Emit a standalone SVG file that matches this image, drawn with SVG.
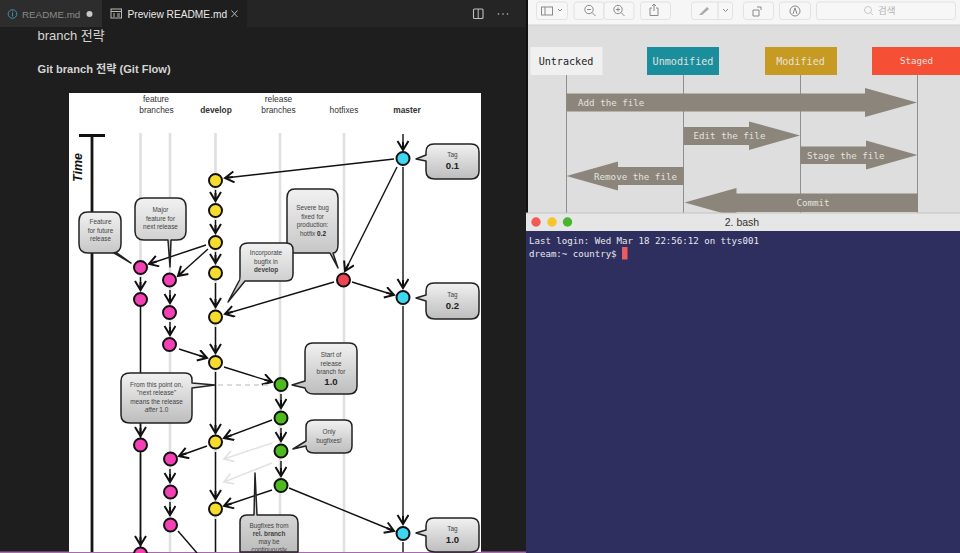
<svg xmlns="http://www.w3.org/2000/svg" width="960" height="553" viewBox="0 0 960 553">
<style>
text{font-family:"Liberation Sans","Noto Sans CJK KR",sans-serif}
.b{font-size:6.4px;fill:#444;text-anchor:middle}
.h{font-size:8.4px;fill:#333;text-anchor:middle}
.tag{font-size:9.6px;font-weight:700;fill:#222;text-anchor:middle}
.bub{fill:url(#g);stroke:#222;stroke-width:1.5;stroke-linejoin:round}
.lane{stroke:#e0e0e0;stroke-width:2.6;fill:none}
.c{stroke:#111;stroke-width:1.4;fill:none;marker-end:url(#a)}
.p{stroke:#111;stroke-width:1.4;fill:none}
.gh{stroke:#e2e2e2;stroke-width:1.4;fill:none;marker-end:url(#ga)}
.n{stroke:#111;stroke-width:2}
.y{fill:#f7dc2e}.m{fill:#f43fb5}.gr{fill:#4dbb1f}.cy{fill:#3fd6f2}.r{fill:#ee4455}
.mono{font-family:"DejaVu Sans Mono","Liberation Mono",monospace;font-size:9.2px;fill:#e4e2de}
.hd{font-family:"DejaVu Sans Mono","Liberation Mono",monospace;font-size:10.100px;fill:#e4e2de;text-anchor:middle}
.ar{fill:#8b857b}
.ll{stroke:#8f8f8f;stroke-width:1;fill:none}
.tb{fill:#f7f7f7;stroke:#dcdcdc;stroke-width:.8}
.ic{fill:none;stroke:#8a8a8a;stroke-width:1}
.term{font-family:"DejaVu Sans Mono","Liberation Mono",monospace;font-size:9.1px;fill:#e8e8ee}
</style>
<defs>
<linearGradient id="g" x1="0" y1="0" x2="0" y2="1"><stop offset="0" stop-color="#f1f1f1"/><stop offset="1" stop-color="#bdbdbd"/></linearGradient>
<marker id="a" markerUnits="userSpaceOnUse" markerWidth="14" markerHeight="14" refX="11" refY="6" orient="auto"><path d="M2 0.500L11 6L2 11.500M3 6H11" fill="none" stroke="#111" stroke-width="2"/></marker>
<marker id="ga" markerUnits="userSpaceOnUse" markerWidth="14" markerHeight="14" refX="11" refY="6" orient="auto"><path d="M2 0.500L11 6L2 11.500" fill="none" stroke="#e2e2e2" stroke-width="1.700"/></marker>
</defs>

<g id="editor">
<rect width="527" height="553" fill="#1e1e1e"/>
<rect width="527" height="27" fill="#252526"/>
<rect x="0" width="102" height="27" fill="#2d2d2d"/>
<rect x="102" width="145" height="27" fill="#1e1e1e"/>
<circle cx="12.500" cy="14" r="4.300" fill="none" stroke="#3f8fa3" stroke-width="1"/>
<path d="M12.500 12.500v4M12.500 10.500v1" stroke="#3f8fa3"/>
<text x="22" y="18" font-size="9.800" fill="#8a8a8a">README.md</text>
<circle cx="89.500" cy="14" r="3" fill="#c8c8c8"/>
<rect x="111" y="9" width="10.500" height="9" fill="none" stroke="#b8b8b8"/><path d="M111 11.500h10.500M113 14h2M117 14h3M113 16h2M117 16h3" stroke="#b8b8b8" fill="none"/>
<text x="127.500" y="18" font-size="10.200" fill="#e8e8e8">Preview README.md</text>
<path d="M231.500 10.500l6 6.500M237.500 10.500l-6 6.500" stroke="#b8b8b8" fill="none"/>
<rect x="473.500" y="9" width="9.500" height="9.500" rx="1" fill="none" stroke="#c0c0c0" stroke-width="1.100"/><path d="M478.200 9v9.500" stroke="#c0c0c0"/>
<circle cx="498.500" cy="14" r=".8" fill="#c0c0c0"/><circle cx="503" cy="14" r=".8" fill="#c0c0c0"/><circle cx="507.500" cy="14" r=".8" fill="#c0c0c0"/>
<text x="37.500" y="40" font-size="13" fill="#d4d4d4">branch 전략</text>
<text x="37.500" y="73" font-size="11.100" font-weight="700" fill="#d4d4d4">Git branch 전략 (Git Flow)</text>
<rect x="0" y="551.500" width="527" height="1.500" fill="#a66bab"/>
</g>

<g id="flow-sheet">
<rect x="69" y="93" width="412" height="459" fill="#fff"/>
<text class="h" x="156" y="102">feature</text><text class="h" x="156.500" y="113">branches</text>
<text class="h" x="216" y="113" font-weight="700" fill="#222">develop</text>
<text class="h" x="278.500" y="102">release</text><text class="h" x="278.500" y="113">branches</text>
<text class="h" x="344" y="113">hotfixes</text>
<text class="h" x="407" y="113" font-weight="700" fill="#222">master</text>
<text transform="translate(82 182) rotate(-90)" font-size="12.500" font-weight="700" font-style="italic" fill="#111">Time</text>
<path d="M79 135.500H105" stroke="#111" stroke-width="3"/>
<path d="M92 136V552" stroke="#151515" stroke-width="2.800"/>
<g id="lanes">
<path class="lane" d="M140.500 133V552M170 133V552M215.500 133V552M280 133V552M344 133V552"/>
</g>
</g>

<g id="connectors">
<path class="p" d="M140.500 300V552"/>
<path class="c" d="M403 134V150"/>
<path class="c" d="M403 167V288"/>
<path class="c" d="M403 306V524"/>
<path class="p" d="M403 542V552"/>
<path class="c" d="M394 159L225 178"/>
<path class="c" d="M215.500 190V201"/>
<path class="c" d="M215.500 220V233"/>
<path class="c" d="M215.500 252V263"/>
<path class="c" d="M215.500 283V307"/>
<path class="c" d="M215.500 327V353"/>
<path class="c" d="M215.500 372V433"/>
<path class="c" d="M215.500 452V499"/>
<path class="p" d="M215.500 519V552"/>
<path class="c" d="M206 245L149 264"/>
<path class="c" d="M208 249L178 276"/>
<path class="c" d="M140.500 277V290"/>
<path class="c" d="M170 290V303"/>
<path class="c" d="M170 322V335"/>
<path class="c" d="M179 349L207 358"/>
<path class="c" d="M224 367L272 382"/>
<path class="c" d="M140.500 421V436"/>
<path class="c" d="M140.500 454V545"/>
<path class="c" d="M272 420L224 438"/>
<path class="c" d="M207 446L179 456"/>
<path class="c" d="M170 469V482"/>
<path class="c" d="M170 502V515"/>
<path class="p" d="M178 531L197 553"/>
<path class="gh" d="M272 443L224 459"/>
<path class="gh" d="M272 463L224 482"/>
<path class="c" d="M272 490L224 506"/>
<path class="c" d="M281 394V408"/>
<path class="c" d="M281 428V441"/>
<path class="c" d="M281 461V476"/>
<path class="c" d="M289 488L394 531"/>
<path class="c" d="M397 167L345 271"/>
<path class="c" d="M352 282L394 295"/>
<path class="c" d="M334 282L225 314"/>
<path d="M218 385H272" stroke="#d0d0d0" stroke-width="1.300" stroke-dasharray="5 4" fill="none"/>
</g>

<g id="note-future"><path class="bub" d="M88 212H112Q121 212 121 221V244Q121 253 112 253H117L131 263L114 253H88Q79 253 79 244V221Q79 212 88 212Z"/><text class="b" x="100.500" y="224">Feature</text><text class="b" x="100.500" y="233">for future</text><text class="b" x="100.500" y="241">release</text></g>
<g id="note-major"><path class="bub" d="M144 198H177Q186 198 186 207V231Q186 240 177 240H171L170 267L168 240H144Q135 240 135 231V207Q135 198 144 198Z"/><text class="b" x="160.500" y="212">Major</text><text class="b" x="160.500" y="221">feature for</text><text class="b" x="160.500" y="229">next release</text></g>
<g id="note-severe"><path class="bub" d="M295 189H329Q338 189 338 198V244Q338 253 333 253L338 268L330 253H295Q287 253 287 244V198Q287 189 295 189Z"/><text class="b" x="312.500" y="210">Severe bug</text><text class="b" x="312.500" y="219">fixed for</text><text class="b" x="312.500" y="227">production:</text><text class="b" x="313" y="236">hotfix <tspan font-weight="700" fill="#222">0.2</tspan></text></g>
<g id="note-bugfix"><path class="bub" d="M248 243H286Q293 243 293 250V274Q293 281 286 281H245L228 302L239 281Q240 281 240 274V250Q240 243 248 243Z"/><text class="b" x="266" y="255">Incorporate</text><text class="b" x="266" y="264">bugfix in</text><text class="b" x="266" y="272" font-weight="700" fill="#222">develop</text></g>
<g id="note-tag01"><path class="bub" d="M434 144H471Q479 144 479 152V171Q479 179 471 179H435Q426 179 426 171V161L416 159L426 155V152Q426 144 434 144Z"/><text class="b" x="452.500" y="157">Tag</text><text class="tag" x="452.500" y="168.500">0.1</text></g>
<g id="note-tag02"><path class="bub" d="M434 283H471Q479 283 479 291V311Q479 319 471 319H435Q426 319 426 311V301L416 298L426 295V291Q426 283 434 283Z"/><text class="b" x="452.500" y="297">Tag</text><text class="tag" x="452.500" y="308.500">0.2</text></g>
<g id="note-tag10"><path class="bub" d="M434 518H471Q479 518 479 526V545Q479 552 471 552H435Q426 552 426 545V536L416 533L426 530V526Q426 518 434 518Z"/><text class="b" x="452.500" y="531">Tag</text><text class="tag" x="452.500" y="543">1.0</text></g>
<g id="note-next"><path class="bub" d="M130 373H185Q192 373 192 380V383L215 385L192 388V415Q192 423 185 423H130Q121 423 121 415V381Q121 373 130 373Z"/><text class="b" x="156.500" y="387">From this point on,</text><text class="b" x="156.500" y="395">"next release"</text><text class="b" x="156.500" y="404">means the release</text><text class="b" x="156.500" y="412"><tspan font-style="italic">after</tspan> 1.0</text></g>
<g id="note-start"><path class="bub" d="M313 343H349Q357 343 357 351V386Q357 394 349 394H314Q306 394 305 388L292 385L305 381V351Q305 343 313 343Z"/><text class="b" x="331" y="356.500">Start of</text><text class="b" x="331" y="365.500">release</text><text class="b" x="331" y="373.500">branch for</text><text class="tag" x="331" y="384.500">1.0</text></g>
<g id="note-only"><path class="bub" d="M314 420H345Q352 420 352 427V446Q352 453 345 453H314Q306 453 306 446L293 449L306 441V427Q306 420 314 420Z"/><text class="b" x="329" y="433.500">Only</text><text class="b" x="329" y="442.500">bugfixes!</text></g>
<g id="note-rel"><path class="bub" d="M247 515H254L255 473L257 515H290Q298 515 298 523V552H240V522Q240 515 247 515Z"/><text class="b" x="269" y="528">Bugfixes from</text><text class="b" x="269" y="536" font-weight="700" fill="#222">rel. branch</text><text class="b" x="269" y="544">may be</text><text class="b" x="269" y="551.500">continuously</text></g>

<g id="d1"><circle class="n y" cx="215.500" cy="180.500" r="6.500"/></g>
<g id="d2"><circle class="n y" cx="215.500" cy="210.500" r="6.500"/></g>
<g id="d3"><circle class="n y" cx="215.500" cy="242.500" r="6.500"/></g>
<g id="d4"><circle class="n y" cx="215.500" cy="273" r="6.500"/></g>
<g id="d5"><circle class="n y" cx="215.500" cy="317" r="6.500"/></g>
<g id="d6"><circle class="n y" cx="215.500" cy="362.500" r="6.500"/></g>
<g id="d7"><circle class="n y" cx="215.500" cy="442" r="6.500"/></g>
<g id="d8"><circle class="n y" cx="215.500" cy="509" r="6.500"/></g>
<g id="f1"><circle class="n m" cx="140.500" cy="267.500" r="6.500"/></g>
<g id="f2"><circle class="n m" cx="140.500" cy="299.500" r="6.500"/></g>
<g id="f3"><circle class="n m" cx="140.500" cy="445" r="6.500"/></g>
<g id="f4"><circle class="n m" cx="140.500" cy="554" r="6.500"/></g>
<g id="g1"><circle class="n m" cx="169.500" cy="280" r="6.500"/></g>
<g id="g2"><circle class="n m" cx="169.500" cy="312.500" r="6.500"/></g>
<g id="g3"><circle class="n m" cx="169.500" cy="344.500" r="6.500"/></g>
<g id="g4"><circle class="n m" cx="170.500" cy="459" r="6.500"/></g>
<g id="g5"><circle class="n m" cx="170.500" cy="492" r="6.500"/></g>
<g id="g6"><circle class="n m" cx="170.500" cy="525" r="6.500"/></g>
<g id="r1"><circle class="n gr" cx="281" cy="384.500" r="6.500"/></g>
<g id="r2"><circle class="n gr" cx="281" cy="418" r="6.500"/></g>
<g id="r3"><circle class="n gr" cx="281" cy="451" r="6.500"/></g>
<g id="r4"><circle class="n gr" cx="281" cy="485.500" r="6.500"/></g>
<g id="h1"><circle class="n r" cx="343.500" cy="280" r="6.500"/></g>
<g id="m1"><circle class="n cy" cx="403" cy="158.500" r="6.500"/></g>
<g id="m2"><circle class="n cy" cx="403" cy="297.500" r="6.500"/></g>
<g id="m3"><circle class="n cy" cx="403" cy="533.500" r="6.500"/></g>

<g id="preview-window">
<rect x="526" y="0" width="434" height="214" fill="#dedede"/>
<rect x="526" y="0" width="2" height="214" fill="#111"/>
<rect x="528" y="0" width="432" height="25" fill="#f6f6f6"/>
<path d="M528 25H960" stroke="#d2d2d2"/>
<rect class="tb" x="536.500" y="2" width="31" height="17.500" rx="3"/>
<rect class="tb" x="574" y="2" width="30" height="17.500" rx="3"/>
<rect class="tb" x="604" y="2" width="30" height="17.500" rx="3"/>
<rect class="tb" x="640.500" y="2" width="30" height="17.500" rx="3"/>
<rect class="tb" x="691.500" y="2" width="41" height="17.500" rx="3"/>
<path d="M718 2V19.500" stroke="#dcdcdc"/>
<rect class="tb" x="743.500" y="2" width="30" height="17.500" rx="3"/>
<rect class="tb" x="779.500" y="2" width="31" height="17.500" rx="3"/>
<rect class="tb" x="816.500" y="2" width="139" height="17.500" rx="3"/>
<rect class="ic" x="541.500" y="7" width="11" height="8"/><path class="ic" d="M545 7V15M558 9l2 2 2-2"/>
<circle class="ic" cx="589" cy="9.500" r="4.200"/><path class="ic" d="M592 12.500l3.500 3.500M587 9.500h4"/>
<circle class="ic" cx="618" cy="9.500" r="4.200"/><path class="ic" d="M621 12.500l3.500 3.500M616 9.500h4M618 7.500v4"/>
<path class="ic" d="M652 8h-2v7.500h8V8h-2M654 4v7M652 6l2-2 2 2"/>
<path d="M699 15l8-8 2 2-7 6zM699 16h11" fill="#aaa"/>
<path class="ic" d="M723 9l2.500 2.500L728 9"/>
<path class="ic" d="M753 10h6v6h-6zM757 7h4v3"/>
<circle class="ic" cx="795" cy="11" r="5"/><path class="ic" d="M793 14l2-6 2 6"/>
<circle cx="868" cy="10" r="3.500" fill="none" stroke="#c8c8c8"/><path d="M870.500 12.500l2.500 2.500" stroke="#c8c8c8"/>
<text x="878" y="14" font-size="9.500" fill="#b4b4b4">검색</text>

<path class="ll" d="M566.500 75V214M683.500 75V214M800.500 75V214M917.500 75V214"/>
<g id="untracked"><rect x="530.500" y="47" width="72" height="28" fill="#f0f0f0"/><text x="566" y="65" class="hd" style="fill:#222">Untracked</text></g>
<g id="unmodified"><rect x="647" y="47" width="72" height="28" fill="#1a8e9c"/><text x="683" y="65" class="hd">Unmodified</text></g>
<g id="modified"><rect x="765" y="47" width="72" height="28" fill="#c79a22"/><text x="800.500" y="65" class="hd">Modified</text></g>
<g id="staged"><rect x="872" y="47" width="88" height="28" fill="#f55036"/><text x="916.500" y="64" class="mono" text-anchor="middle">Staged</text></g>
<g id="add"><path class="ar" d="M566.500 93.500H865V88L917 102.500L865 117V111.500H566.500Z"/><text x="578" y="106" class="mono">Add the file</text></g>
<g id="edit"><path class="ar" d="M683.500 127H749V121.500L800 135.500L749 150V145H683.500Z"/><text x="693.500" y="139" class="mono">Edit the file</text></g>
<g id="stage"><path class="ar" d="M800.500 146.500H866V140.500L917.500 155L866 169.500V164H800.500Z"/><text x="807" y="159" class="mono">Stage the file</text></g>
<g id="remove"><path class="ar" d="M683.500 167H618V161.500L566.500 176L618 190.500V185H683.500Z"/><text x="594" y="179.500" class="mono">Remove the file</text></g>
<g id="commit"><path class="ar" d="M918 193.500H736.500V188L684.500 202.500L736.500 217V212H918Z"/><text x="813" y="206" text-anchor="middle" class="mono">Commit</text></g>
</g>

<g id="terminal">
<rect x="526" y="213" width="434" height="18" fill="#e6e6e6"/>
<path d="M526 213H960" stroke="#c4c4c4"/>
<rect x="526" y="231" width="434" height="322" fill="#2f2f5f"/>
<circle cx="536" cy="222" r="4.700" fill="#f05a50"/>
<circle cx="552" cy="222" r="4.700" fill="#f5c52a"/>
<circle cx="567.500" cy="222" r="4.700" fill="#47b52e"/>
<text x="742" y="226" text-anchor="middle" font-size="10.500" fill="#333">2. bash</text>
<text class="term" x="529" y="243.500">Last login: Wed Mar 18 22:56:12 on ttys001</text>
<text class="term" x="529" y="256.500">dream:~ country$</text>
<rect x="622" y="247" width="5.500" height="12.500" fill="#ee5a62"/>
</g>
</svg>
